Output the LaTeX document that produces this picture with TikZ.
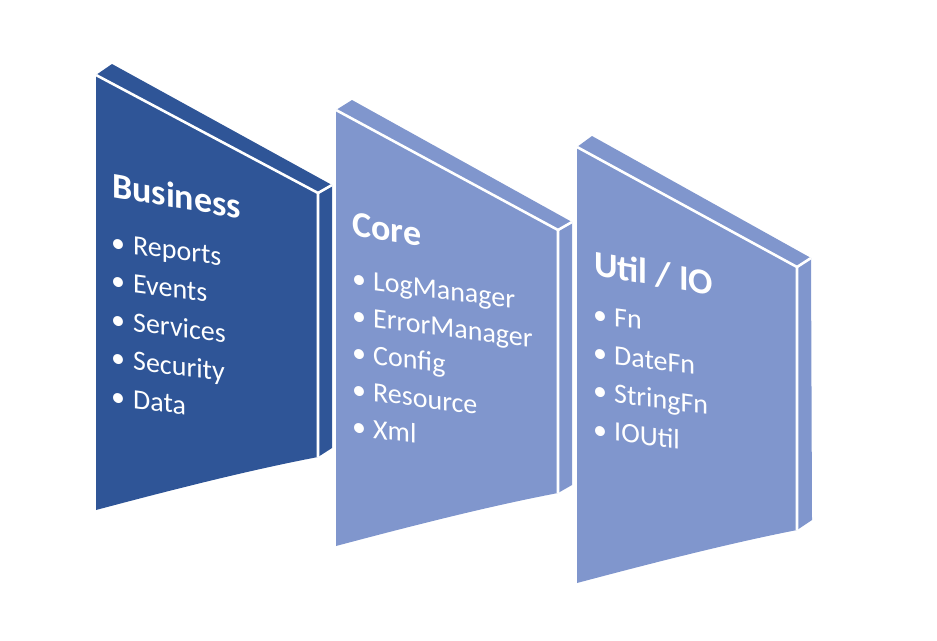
\documentclass[tikz,border=0pt]{standalone}
\usepackage{fontspec}
\setmainfont{Carlito}
\definecolor{slabdark}{RGB}{47,85,151}
\definecolor{slablight}{RGB}{128,150,205}
\tikzset{
  rim/.style={draw=white, line width=2.6pt, line join=miter},
  heading/.style={anchor=base west, inner sep=0pt, text=white, yslant=-0.17,
    font=\fontsize{36}{42}\selectfont\bfseries},
  entry/.style={anchor=base west, inner sep=0pt, text=white, yslant=-0.13,
    font=\fontsize{28}{33}\selectfont},
  dot/.style={anchor=base, inner sep=0pt, text=white, yslant=-0.13,
    font=\fontsize{28}{33}\selectfont},
}
\begin{document}
\begin{tikzpicture}[x=1pt,y=-1pt]
\useasboundingbox (0,0) rectangle (937,640);

% ---- Business slab ----
\coordinate (b-ftl) at (96,75);
\coordinate (b-ftr) at (318,193);
\coordinate (b-fbr) at (318,457);
\coordinate (b-fbl) at (96,510);
\coordinate (b-btl) at (112,64);
\coordinate (b-btr) at (332,185);
\coordinate (b-bbr) at (332,448);
\fill[slabdark] (b-ftl) -- (b-btl) -- (b-btr) -- (b-bbr) -- (b-fbr)
  .. controls (250,470) and (175,489) .. (b-fbl) -- cycle;
\draw[rim] (b-ftl) -- (b-ftr) -- (b-fbr);
\draw[rim] (b-ftr) -- (b-btr);
\node[heading] (b-title) at (112,197) {Business};
\foreach \t [count=\i] in {Reports,Events,Services,Security,Data} {
  \node[dot] (b-dot\i) at (118,{252+38.5*(\i-1)}) {\textbullet};
  \node[entry] (b-item\i) at (133,{254+38.5*(\i-1)}) {\t};
}

% ---- Core slab ----
\coordinate (c-ftl) at (336,110);
\coordinate (c-ftr) at (558,230);
\coordinate (c-fbr) at (558,493);
\coordinate (c-fbl) at (336,546);
\coordinate (c-btl) at (352,100);
\coordinate (c-btr) at (572,222);
\coordinate (c-bbr) at (572,485);
\fill[slablight] (c-ftl) -- (c-btl) -- (c-btr) -- (c-bbr) -- (c-fbr)
  .. controls (490,506) and (415,525) .. (c-fbl) -- cycle;
\draw[rim] (c-ftl) -- (c-ftr) -- (c-fbr);
\draw[rim] (c-ftr) -- (c-btr);
\node[heading] (c-title) at (352,235) {Core};
\foreach \t [count=\i] in {LogManager,ErrorManager,Config,Resource,Xml} {
  \node[dot] (c-dot\i) at (359,{288+37*(\i-1)}) {\textbullet};
  \node[entry] (c-item\i) at (373,{290+37*(\i-1)}) {\t};
}

% ---- Util / IO slab ----
\coordinate (u-ftl) at (577,147);
\coordinate (u-ftr) at (797,267);
\coordinate (u-fbr) at (797,530);
\coordinate (u-fbl) at (577,583);
\coordinate (u-btl) at (592,136);
\coordinate (u-btr) at (811,258);
\coordinate (u-bbr) at (812,520);
\fill[slablight] (u-ftl) -- (u-btl) -- (u-btr) -- (u-bbr) -- (u-fbr)
  .. controls (731,543) and (656,562) .. (u-fbl) -- cycle;
\draw[rim] (u-ftl) -- (u-ftr) -- (u-fbr);
\draw[rim] (u-ftr) -- (u-btr);
\node[heading] (u-title) at (594,275) {Util / IO};
\foreach \t [count=\i] in {Fn,DateFn,StringFn,IOUtil} {
  \node[dot] (u-dot\i) at (600,{324+38.3*(\i-1)}) {\textbullet};
  \node[entry] (u-item\i) at (614,{326+38.3*(\i-1)}) {\t};
}
\end{tikzpicture}
\end{document}
